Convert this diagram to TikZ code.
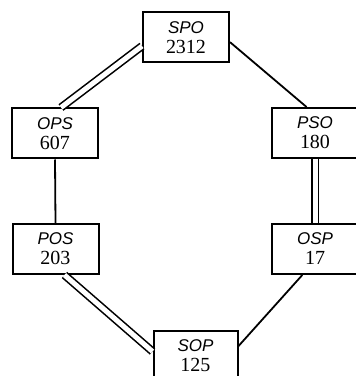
\documentclass[tikz,border=0pt]{standalone}
\usepackage{fontspec}
\setmainfont{Liberation Serif}
\setsansfont{Liberation Sans}
\usepackage{tikz}

% lettres de la permutation, en italique
\newcommand{\lettres}[1]{{\sffamily\itshape\fontsize{17}{20}\selectfont #1}}

\tikzset{
  boite/.style={draw, line width=2pt, minimum width=86pt, minimum height=50pt,
    inner sep=0pt, align=center, font=\fontsize{20}{20}\selectfont},
  simple/.style={line width=1.8pt},
  doublet/.style={double, double distance=5pt, line width=1.6pt},
}

\begin{document}
\begin{tikzpicture}[x=1pt,y=1pt]
    % Cadre
    \clip (0,0) rectangle (356,376);

    % Les six permutations
    \node[boite] (spo) at (186,338.5) {\lettres{SPO}\\2312};
    \node[boite] (ops) at (55,242.5) {\lettres{OPS}\\607};
    \node[boite] (pso) at (315,243) {\lettres{PSO}\\180};
    \node[boite] (pos) at (55.5,127) {\lettres{POS}\\203};
    \node[boite] (osp) at (315,127) {\lettres{OSP}\\17};
    \node[boite, minimum width=84pt] (sop) at (195.5,20) {\lettres{SOP}\\125};

    % Liaisons doubles
    \draw[doublet] (spo.191) -- (ops.77);
    \draw[doublet] (pso.south) -- (osp.north);
    \draw[doublet] (pos.-71) -- (sop.174);

    % Liaisons simples
    \draw[simple] (spo.-6) -- (pso.108);
    \draw[simple] (ops.south) -- (pos.north);
    \draw[simple] (osp.244) -- (sop.13);
\end{tikzpicture}
\end{document}
